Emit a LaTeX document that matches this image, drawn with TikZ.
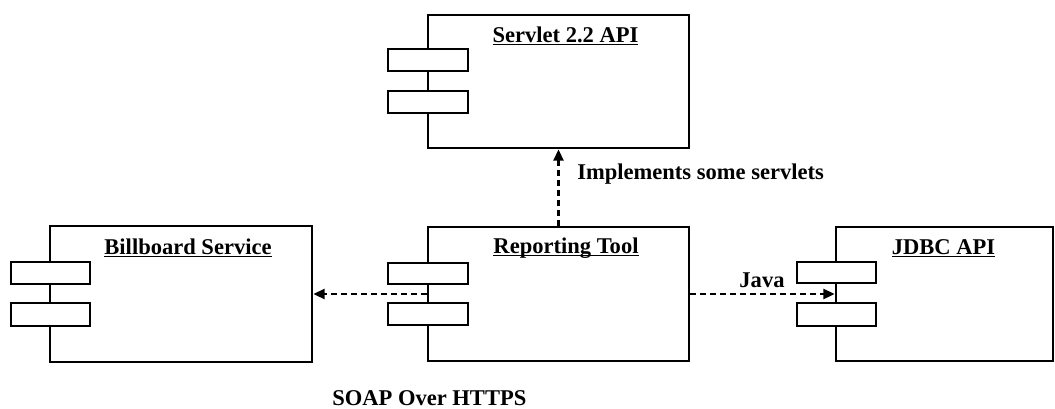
\documentclass[tikz,border=0pt]{standalone}
\usepackage{fontspec}
\setmainfont{Liberation Serif}
\usetikzlibrary{arrows.meta,fit}
\newlength\ulwidth
\newcommand{\ulined}[1]{\settowidth{\ulwidth}{#1}\rlap{\rule[-2.6pt]{\ulwidth}{1.2pt}}#1}
\begin{document}
\begin{tikzpicture}[x=0.75pt,y=-0.75pt,
  body/.style={draw, line width=2pt, inner sep=0pt},
  tab/.style={draw, fill=white, line width=2pt, inner sep=0pt},
  title/.style={font=\fontsize{16.9}{20}\selectfont\bfseries, anchor=base, inner sep=0pt},
  lbl/.style={font=\fontsize{16.9}{20}\selectfont\bfseries, inner sep=0pt},
  dep/.style={line width=1.8pt, dash pattern=on 4.5pt off 3pt, -{Triangle[length=8.5pt,width=7.5pt]}}]
\useasboundingbox (0,0) rectangle (1055,408);

% Servlet 2.2 API
\node[body, fit={(428,15) (689,148)}] (servlet) {};
\node[tab, fit={(388,49) (468,71)}] (servlet-t1) {};
\node[tab, fit={(388,91) (468,113)}] (servlet-t2) {};
\node[title] (servlet-title) at (565.5,42) {\ulined{Servlet 2.2 API}};

% Billboard Service
\node[body, fit={(50,226) (312,362)}] (billboard) {};
\node[tab, fit={(11,262) (90,284)}] (billboard-t1) {};
\node[tab, fit={(11,303) (90,326)}] (billboard-t2) {};
\node[title] (billboard-title) at (188,254) {\ulined{Billboard Service}};

% Reporting Tool
\node[body, fit={(428,227) (689,361)}] (reporting) {};
\node[tab, fit={(388,263) (468,284)}] (reporting-t1) {};
\node[tab, fit={(388,303) (468,325)}] (reporting-t2) {};
\node[title] (reporting-title) at (566,253) {\ulined{Reporting Tool}};

% JDBC API
\node[body, fit={(836,227) (1053,361)}] (jdbc) {};
\node[tab, fit={(797,262) (876,283)}] (jdbc-t1) {};
\node[tab, fit={(797,303) (876,326)}] (jdbc-t2) {};
\node[title] (jdbc-title) at (943.5,254) {\ulined{JDBC API}};

% Dependencies
\draw[dep] (reporting.north) -- (servlet.south);
\draw[dep] (reporting.west) -- (billboard.east);
\draw[dep] (reporting.east) -- (jdbc.west);

% Labels
\node[lbl, anchor=base west] (impl) at (577,179) {Implements some servlets};
\node[lbl, anchor=base] (java) at (762,287) {Java};
\node[lbl, anchor=base west] (soap) at (332,405) {SOAP Over HTTPS};
\end{tikzpicture}
\end{document}
